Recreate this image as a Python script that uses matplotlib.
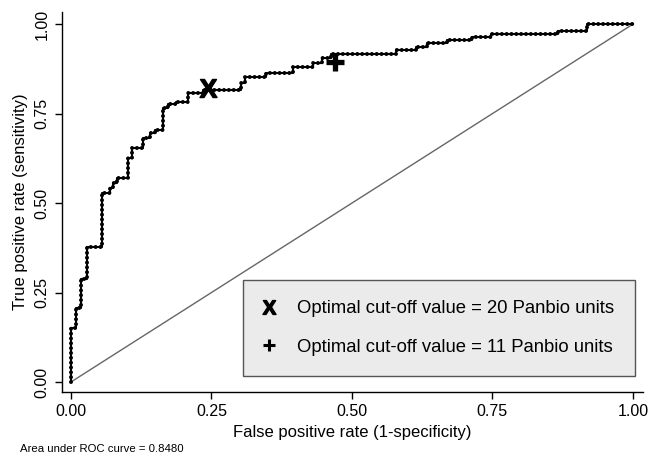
import numpy as np
import matplotlib
matplotlib.use('Agg')
import matplotlib.pyplot as plt
from matplotlib.lines import Line2D

plt.rcParams['font.family'] = ['Liberation Sans', 'DejaVu Sans']
plt.rcParams['mathtext.fontset'] = 'custom'
plt.rcParams['mathtext.bf'] = 'Liberation Sans:bold'

# step corners of the ROC curve
fpr = [0.000, 0.000, 0.009, 0.009, 0.018, 0.018, 0.029, 0.029, 0.055, 0.055,
       0.069, 0.069, 0.075, 0.075, 0.082, 0.082, 0.101, 0.101, 0.109, 0.109,
       0.128, 0.128, 0.141, 0.141, 0.150, 0.150, 0.164, 0.164, 0.173, 0.173,
       0.187, 0.187, 0.208, 0.208, 0.235, 0.235, 0.303, 0.303, 0.310, 0.310,
       0.347, 0.347, 0.395, 0.395, 0.431, 0.431, 0.447, 0.447, 0.463, 0.463,
       0.578, 0.578, 0.614, 0.614, 0.634, 0.634, 0.669, 0.669, 0.714, 0.714,
       0.747, 0.747, 0.867, 0.867, 0.918, 0.918, 1.000]
tpr = [0.000, 0.151, 0.151, 0.207, 0.207, 0.288, 0.288, 0.377, 0.377, 0.528,
       0.528, 0.542, 0.542, 0.556, 0.556, 0.570, 0.570, 0.626, 0.626, 0.654,
       0.654, 0.682, 0.682, 0.696, 0.696, 0.704, 0.704, 0.765, 0.765, 0.777,
       0.777, 0.782, 0.782, 0.807, 0.807, 0.816, 0.816, 0.835, 0.835, 0.852,
       0.852, 0.863, 0.863, 0.880, 0.880, 0.891, 0.891, 0.905, 0.905, 0.916,
       0.916, 0.927, 0.927, 0.936, 0.936, 0.947, 0.947, 0.955, 0.955, 0.964,
       0.964, 0.972, 0.972, 0.980, 0.980, 1.000, 1.000]

# optimal cut-off points
cut20 = (0.244, 0.821)
cut11 = (0.470, 0.894)
auc = 0.8480

ticks = [0, 0.25, 0.5, 0.75, 1.0]
tick_labels = ['0.00', '0.25', '0.50', '0.75', '1.00']

fig = plt.figure(figsize=(6.5, 4.72), dpi=100)
ax = fig.add_axes([62/650, 80/472, 581/650, 380/472])

# reference line
ax.plot([0, 1], [0, 1], color='#666666', lw=1.0)

# beaded step curve
ax.plot(fpr, tpr, color='k', lw=1.5)
ax.plot(fpr, tpr, color='k', lw=2.9, linestyle=(0, (0.001, 1.2)),
        dash_capstyle='round')

ax.plot(cut20[0], cut20[1], ls='none', marker=r'$\mathbf{X}$', ms=13, color='k')
ax.plot(cut11[0], cut11[1], ls='none', marker='+', ms=13, mew=3.8, color='k')

ax.set_xlim(-0.016, 1.018)
ax.set_ylim(-0.028, 1.034)
ax.set_xticks(ticks)
ax.set_xticklabels(tick_labels)
ax.set_yticks(ticks)
ax.set_yticklabels(tick_labels, rotation=90, va='center')
ax.tick_params(direction='out', length=5, width=1, labelsize=11.5, pad=4)
for s in ['top', 'right']:
    ax.spines[s].set_visible(False)
for s in ['left', 'bottom']:
    ax.spines[s].set_linewidth(1.0)

ax.set_xlabel('False positive rate (1-specificity)', fontsize=12, labelpad=4)
ax.set_ylabel('True positive rate (sensitivity)', fontsize=12, labelpad=5)

handles = [Line2D([], [], ls='none', marker=r'$\mathbf{X}$', ms=10, color='k'),
           Line2D([], [], ls='none', marker='+', ms=8, mew=2.2, color='k')]
labels = ['Optimal cut-off value = 20 Panbio units',
          'Optimal cut-off value = 11 Panbio units']
leg = ax.legend(handles, labels, loc='lower right', bbox_to_anchor=(0.986, 0.042),
                fontsize=13.3, frameon=True, fancybox=False, framealpha=1,
                facecolor='#ebebeb', edgecolor='#555555', handlelength=0.6,
                handletextpad=1.25, labelspacing=1.15, borderpad=1.1,
                borderaxespad=0)
leg.get_frame().set_linewidth(1.0)

fig.text(20/650, 1 - 449/472, 'Area under ROC curve = %.4f' % auc,
         fontsize=8.2, va='center')

fig.savefig('out.png', dpi=100)
